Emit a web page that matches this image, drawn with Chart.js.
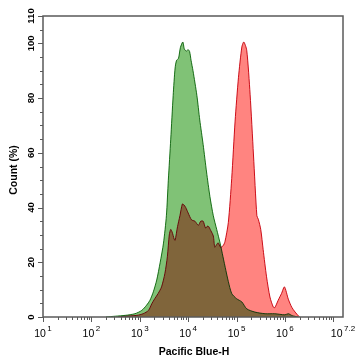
<!DOCTYPE html>
<html><head><meta charset="utf-8">
<script src="https://cdn.jsdelivr.net/npm/chart.js@4.4.1/dist/chart.umd.min.js"></script>
<style>html,body{margin:0;padding:0;background:#fff}#wrap{width:357px;height:360px}</style>
</head><body><div id="wrap"><canvas id="c" width="357" height="360"></canvas></div>
<script>
// x positions are log10(Pacific Blue-H)
const greenX = [2.30,2.50,2.70,2.90,3.04,3.14,3.21,3.28,3.35,3.42,3.49,3.55,3.59,3.64,3.69,3.73,3.76,3.80,3.84,3.89,3.92,3.96,4.00,4.03,4.06,4.10,4.18,4.24,4.31,4.38,4.45,4.52,4.59,4.66,4.72,4.78,4.83,4.90,5.00,5.11,5.21,5.38,5.59,5.79,6.00,6.07,6.15,6.27];
const greenY = [0,0.3,0.6,1.2,2.4,4.3,6.1,9.2,13.5,19.8,27,37,50,65,81,91,93.8,94.5,98.5,100.5,98,97.2,97.7,97,93.8,90,81,72,63,53,44,37,32,27,22,17,13,8.6,6.7,5.5,3.0,1.8,1.2,1.2,0.8,1.2,0.5,0];
const redX = [2.55,2.66,2.94,3.07,3.18,3.25,3.31,3.38,3.45,3.52,3.57,3.61,3.64,3.67,3.71,3.73,3.78,3.83,3.88,3.91,3.95,4.00,4.07,4.14,4.21,4.26,4.31,4.36,4.41,4.47,4.52,4.55,4.59,4.62,4.67,4.72,4.76,4.83,4.90,4.97,5.04,5.11,5.15,5.21,5.28,5.35,5.42,5.45,5.50,5.55,5.62,5.69,5.76,5.79,5.86,5.93,5.99,6.07,6.14,6.21,6.30];
const redY = [0,0.2,0.6,1.2,2.4,4.9,6.7,8.6,11,16,22,30,32,31,28.5,28,33,37,41.3,41,40,38,35.5,35,33.5,35,35,32.5,33.3,31.5,29.6,25.5,26.5,27.1,25.5,26,27.5,34.5,50.6,71.6,87.6,98.7,100.5,97.5,81.4,59.2,37,35.7,32,24.6,14.7,7.3,3.6,3.4,6.1,8.6,11,6.5,3.6,1.8,0];
const xMajor = [1,2,3,4,5,6,7];
const xLabelPos = [1,2,3,4,5,6,7.2];
const xLabelExp = ['1','2','3','4','5','6','7.2'];
const yTicks = [0,20,40,60,80,100,110];

const toPts = (xs, ys) => xs.map((x,i)=>({x, y: ys[i]}));

const axisPlugin = {
  id: 'axes',
  beforeDraw(chart){
    const c = chart.ctx; c.save(); c.fillStyle='#fff'; c.fillRect(0,0,chart.width,chart.height); c.restore();
  },
  beforeDatasetsDraw(chart){ chart.ctx.save(); chart.ctx.globalCompositeOperation='multiply'; },
  afterDatasetsDraw(chart){ chart.ctx.restore(); },
  afterDraw(chart){
    const c = chart.ctx, a = chart.chartArea, xs = chart.scales.x, ys = chart.scales.y;
    c.save();
    c.strokeStyle = '#5a5a5a'; c.lineWidth = 1.5;
    c.strokeRect(a.left, a.top, a.right-a.left, a.bottom-a.top);
    c.lineWidth = 1;
    for (let v=0; v<=110; v+=5){
      const y = Math.round(ys.getPixelForValue(v))+0.5;
      const len = (v%20===0 || v===110) ? 5 : 3;
      c.beginPath(); c.moveTo(a.left-len, y); c.lineTo(a.left, y); c.stroke();
    }
    const drawX = (p, len) => { const x = Math.round(xs.getPixelForValue(p))+0.5; c.beginPath(); c.moveTo(x, a.bottom); c.lineTo(x, a.bottom+len); c.stroke(); };
    xMajor.forEach(p => drawX(p,5));
    for (let n=1;n<=6;n++) for (let k=2;k<=9;k++) drawX(n+Math.log10(k),3);
    c.fillStyle = '#000';
    c.font = 'bold 9.5px "Liberation Sans", Arial, sans-serif';
    c.textAlign='center'; c.textBaseline='middle';
    yTicks.forEach(v => {
      const y = ys.getPixelForValue(v);
      c.save(); c.translate(31.5, y); c.rotate(-Math.PI/2); c.fillText(String(v), 0, 0); c.restore();
    });
    c.textBaseline='alphabetic';
    xLabelPos.forEach((p,i) => {
      const x = xs.getPixelForValue(p);
      c.font = '10.5px "Liberation Sans", Arial, sans-serif';
      const w1 = c.measureText('10').width;
      c.font = '8px "Liberation Sans", Arial, sans-serif';
      const w2 = c.measureText(xLabelExp[i]).width;
      const start = x - (w1 + 1.5 + w2)/2;
      c.textAlign='left';
      c.font = '10.5px "Liberation Sans", Arial, sans-serif';
      c.fillText('10', start, 337);
      c.font = '8px "Liberation Sans", Arial, sans-serif';
      c.fillText(xLabelExp[i], start + w1 + 1.5, 331);
    });
    c.textAlign='center';
    c.font = 'bold 10.5px "Liberation Sans", Arial, sans-serif';
    c.fillText('Pacific Blue-H', (a.left+a.right)/2 + 1, 355);
    c.save(); c.translate(14, 170); c.rotate(-Math.PI/2); c.textBaseline='middle'; c.fillText('Count (%)', 0, 0); c.restore();
    c.restore();
  }
};

new Chart(document.getElementById('c'), {
  type: 'line',
  data: { datasets: [
    { label: 'Control', data: toPts(greenX, greenY), borderColor: 'rgb(30,125,30)', backgroundColor: 'rgb(128,194,118)', fill: 'origin', borderWidth: 1, pointRadius: 0, tension: 0.25, order: 2 },
    { label: 'Stained', data: toPts(redX, redY), borderColor: 'rgb(205,15,30)', backgroundColor: 'rgb(255,132,128)', fill: 'origin', borderWidth: 1, pointRadius: 0, tension: 0.25, order: 1 }
  ]},
  options: {
    responsive: false, animation: false, devicePixelRatio: 1,
    layout: { padding: { left: 43, right: 14, top: 16, bottom: 43 } },
    plugins: { legend: { display: false }, tooltip: { enabled: false } },
    scales: {
      x: { type: 'linear', min: 1, max: 7.2, display: false },
      y: { type: 'linear', min: 0, max: 110, display: false }
    }
  },
  plugins: [axisPlugin]
});
</script></body></html>
